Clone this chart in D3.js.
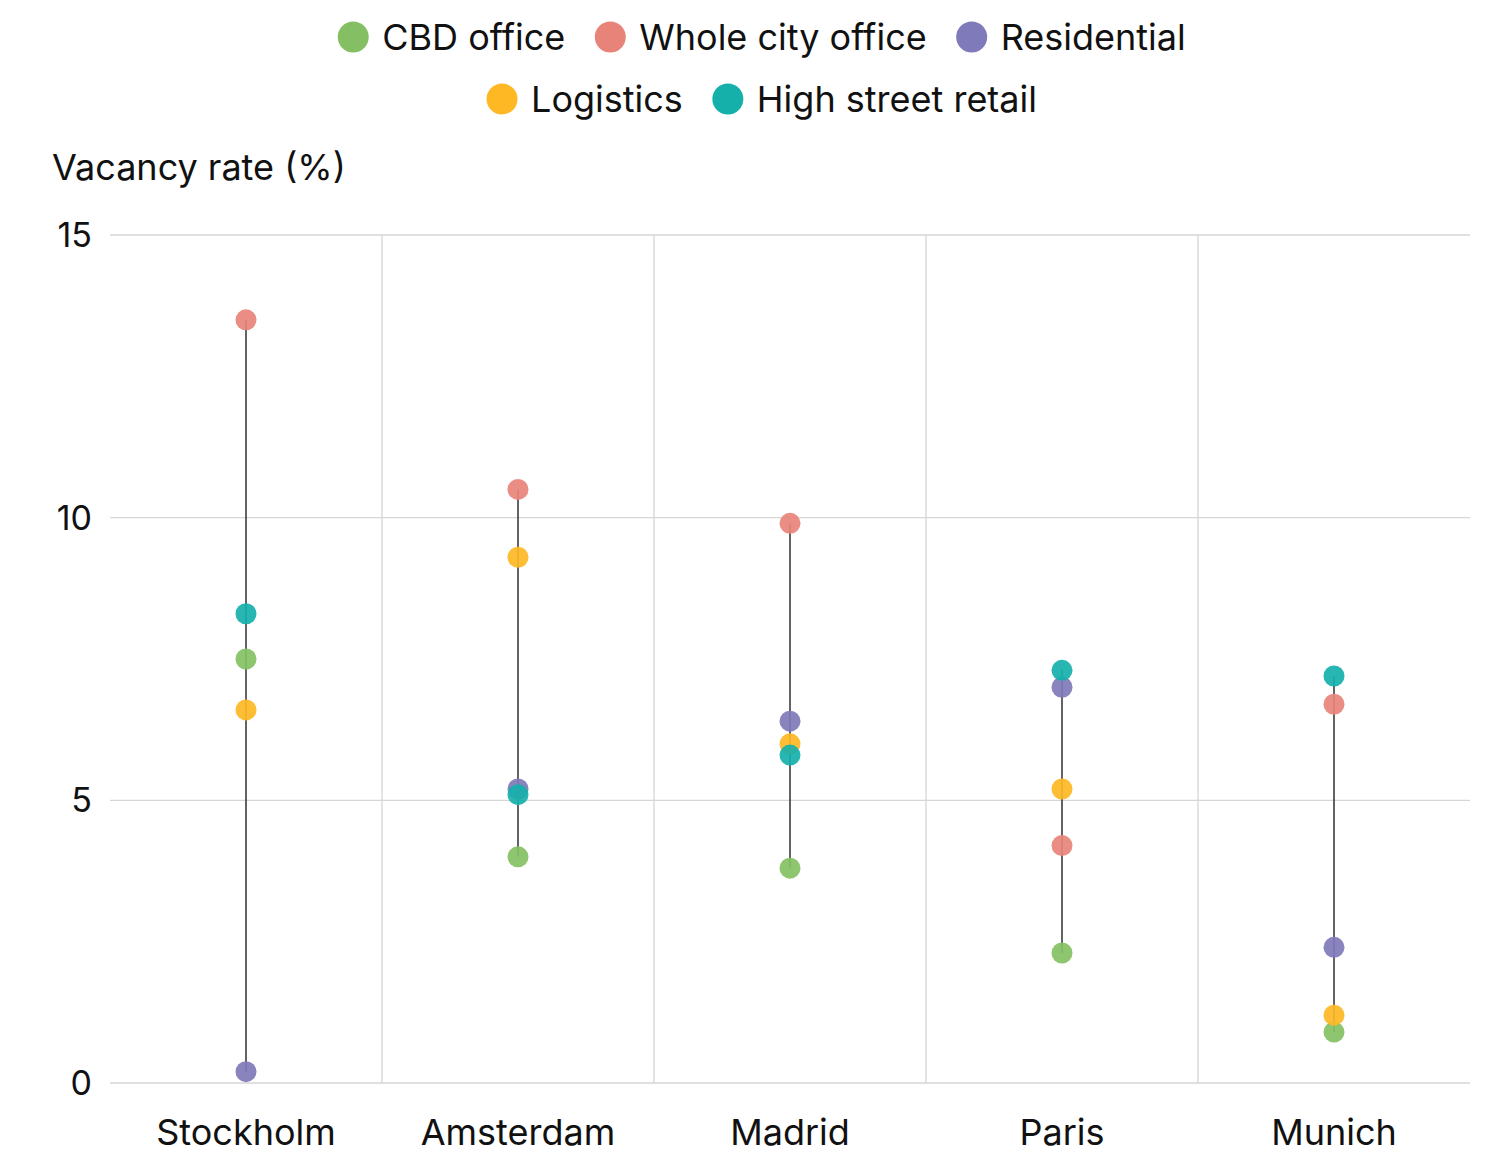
<!DOCTYPE html>
<html>
<head>
<meta charset="utf-8">
<script src="https://cdn.jsdelivr.net/npm/d3@7"></script>
<style>
  body { margin: 0; background: #fff; }
  svg { font-family: Inter, "Noto Sans", sans-serif; }
</style>
</head>
<body>
<svg id="chart" width="1487" height="1154"></svg>
<script>
const cities = ['Stockholm', 'Amsterdam', 'Madrid', 'Paris', 'Munich'];
const seriesNames = ['CBD office', 'Whole city office', 'Residential', 'Logistics', 'High street retail'];
const seriesColors = ['#84c063', '#e8837a', '#7f7ab9', '#fdb824', '#16b0ab'];

// values per city, same order as cities
const cbdOffice = [7.5, 4.0, 3.8, 2.3, 0.9];
const wholeCityOffice = [13.5, 10.5, 9.9, 4.2, 6.7];
const residential = [0.2, 5.2, 6.4, 7.0, 2.4];
const logistics = [6.6, 9.3, 6.0, 5.2, 1.2];
const highStreetRetail = [8.3, 5.1, 5.8, 7.3, 7.2];
const yTicks = [0, 5, 10, 15];

const seriesValues = [cbdOffice, wholeCityOffice, residential, logistics, highStreetRetail];

const svg = d3.select('#chart');
const plotLeft = 110, plotRight = 1470, plotTop = 235, plotBottom = 1083;

const x = d3.scaleBand().domain(cities).range([plotLeft, plotRight]);
const y = d3.scaleLinear().domain([0, 15]).range([plotBottom, plotTop]);
const cx = c => x(c) + x.bandwidth() / 2;

// Horizontal grid + y labels
svg.append('g').selectAll('line')
  .data(yTicks)
  .enter()
  .append('line')
  .attr('x1', plotLeft).attr('x2', plotRight)
  .attr('y1', d => y(d)).attr('y2', d => y(d))
  .attr('stroke', '#d6d6d6').attr('stroke-width', 1.3);

svg.append('g').selectAll('text')
  .data(yTicks)
  .enter()
  .append('text')
  .attr('x', 92)
  .attr('y', d => y(d) + 12)
  .attr('text-anchor', 'end')
  .attr('font-size', 34)
  .attr('fill', '#111')
  .text(d => d);

// Vertical separators between cities
svg.append('g').selectAll('line')
  .data(cities.slice(1))
  .enter()
  .append('line')
  .attr('x1', d => x(d)).attr('x2', d => x(d))
  .attr('y1', plotTop).attr('y2', plotBottom)
  .attr('stroke', '#d6d6d6').attr('stroke-width', 1.3);

// City labels
svg.append('g').selectAll('text')
  .data(cities)
  .enter()
  .append('text')
  .attr('x', d => cx(d))
  .attr('y', 1145)
  .attr('text-anchor', 'middle')
  .attr('font-size', 36)
  .attr('fill', '#111')
  .text(d => d);

// Axis title
svg.append('text')
  .attr('x', 52).attr('y', 180)
  .attr('font-size', 36)
  .attr('fill', '#111')
  .text('Vacancy rate (%)');

// Range lines
const ranges = cities.map((c, i) => {
  const vals = seriesValues.map(s => s[i]);
  return {city: c, min: d3.min(vals), max: d3.max(vals)};
});
svg.append('g').selectAll('line')
  .data(ranges)
  .enter()
  .append('line')
  .attr('x1', d => cx(d.city))
  .attr('x2', d => cx(d.city))
  .attr('y1', d => y(d.min)).attr('y2', d => y(d.max))
  .attr('stroke', '#222').attr('stroke-width', 1.4);

// Dots
seriesValues.forEach((vals, si) => {
  svg.append('g').selectAll('circle')
    .data(vals)
    .enter()
    .append('circle')
    .attr('cx', (d, i) => cx(cities[i]))
    .attr('cy', d => y(d))
    .attr('r', 10.5)
    .attr('fill', seriesColors[si])
    .style('opacity', 0.92);
});

// Legend, two centred rows
const legendRows = [[0, 1, 2], [3, 4]];
const legendY = [37, 99];
legendRows.forEach((row, ri) => {
  const g = svg.append('g');
  let pos = 0;
  row.forEach(si => {
    const item = g.append('g').attr('transform', 'translate(' + pos + ',0)');
    item.append('circle').attr('cx', 15).attr('cy', 0).attr('r', 15.5).attr('fill', seriesColors[si]);
    const t = item.append('text')
      .attr('x', 44).attr('y', 13)
      .attr('font-size', 36)
      .attr('fill', '#111')
      .text(seriesNames[si]);
    pos += 44 + t.node().getComputedTextLength() + 30;
  });
  const w = pos - 30;
  g.attr('transform', 'translate(' + (762 - w / 2) + ',' + legendY[ri] + ')');
});
</script>
</body>
</html>
